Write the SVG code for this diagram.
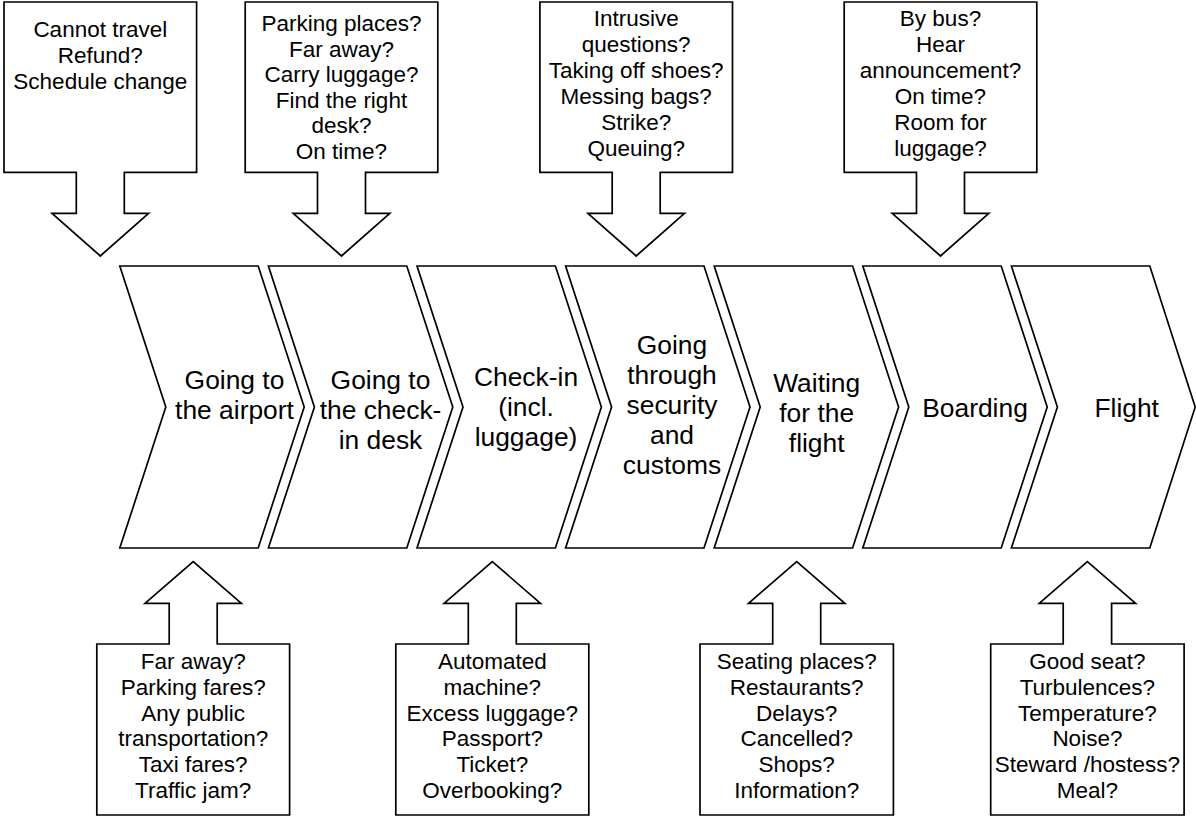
<svg xmlns="http://www.w3.org/2000/svg" width="1196" height="818" viewBox="0 0 1196 818">
<style>
.s{fill:#fff;stroke:#000;stroke-width:1.7;stroke-linejoin:miter}
.c{font-family:"Liberation Sans",Arial,sans-serif;font-size:22.5px;text-anchor:middle;fill:#000}
.h{font-family:"Liberation Sans",Arial,sans-serif;font-size:26.4px;text-anchor:middle;fill:#000}
</style>
<rect width="1196" height="818" fill="#fff"/>

<!-- chevrons -->
<g id="step1"><polygon class="s" points="119.8,266 258.2,266 304.2,407 258.2,548 119.8,548 165.8,407"/>
<text class="h"><tspan x="234.5" y="388.5">Going to</tspan><tspan x="234.5" y="418.5">the airport</tspan></text></g>
<g id="step2"><polygon class="s" points="268.4,266 406.8,266 452.8,407 406.8,548 268.4,548 314.4,407"/>
<text class="h"><tspan x="380.5" y="388.5">Going to</tspan><tspan x="380.5" y="418.5">the check-</tspan><tspan x="380.5" y="448.5">in desk</tspan></text></g>
<g id="step3"><polygon class="s" points="417,266 555.4,266 601.4,407 555.4,548 417,548 463,407"/>
<text class="h"><tspan x="526" y="386">Check-in</tspan><tspan x="526" y="416">(incl.</tspan><tspan x="526" y="446">luggage)</tspan></text></g>
<g id="step4"><polygon class="s" points="565.6,266 704,266 750,407 704,548 565.6,548 611.6,407"/>
<text class="h"><tspan x="672" y="353.5">Going</tspan><tspan x="672" y="383.5">through</tspan><tspan x="672" y="413.5">security</tspan><tspan x="672" y="443.5">and</tspan><tspan x="672" y="473.5">customs</tspan></text></g>
<g id="step5"><polygon class="s" points="714.2,266 852.6,266 898.6,407 852.6,548 714.2,548 760.2,407"/>
<text class="h"><tspan x="816.7" y="391.5">Waiting</tspan><tspan x="816.7" y="421.5">for the</tspan><tspan x="816.7" y="451.5">flight</tspan></text></g>
<g id="step6"><polygon class="s" points="862.8,266 1001.2,266 1047.2,407 1001.2,548 862.8,548 908.8,407"/>
<text class="h" x="975" y="416.5">Boarding</text></g>
<g id="step7"><polygon class="s" points="1011.4,266 1149.8,266 1195.2,407 1149.8,548 1011.4,548 1057.4,407"/>
<text class="h" x="1126.7" y="416.5">Flight</text></g>

<!-- top callouts -->
<g id="issue-top1"><path class="s" d="M4,2H196.6V172.3H124.3V213.3H148.6L100.3,256L52,213.3H76.3V172.3H4Z"/>
<text class="c"><tspan x="100.3" y="37">Cannot travel</tspan><tspan x="100.3" y="62.8">Refund?</tspan><tspan x="100.3" y="88.6">Schedule change</tspan></text></g>
<g id="issue-top2"><path class="s" d="M245.2,2H437.8V172.3H365.5V213.3H389.8L341.5,256L293.2,213.3H317.5V172.3H245.2Z"/>
<text class="c"><tspan x="341.5" y="31">Parking places?</tspan><tspan x="341.5" y="56.6">Far away?</tspan><tspan x="341.5" y="82.2">Carry luggage?</tspan><tspan x="341.5" y="107.8">Find the right</tspan><tspan x="341.5" y="133.4">desk?</tspan><tspan x="341.5" y="159">On time?</tspan></text></g>
<g id="issue-top3"><path class="s" d="M539.9,2H732.5V172.3H660.2V213.3H684.5L636.2,256L587.9,213.3H612.2V172.3H539.9Z"/>
<text class="c"><tspan x="636.2" y="26">Intrusive</tspan><tspan x="636.2" y="52">questions?</tspan><tspan x="636.2" y="78">Taking off shoes?</tspan><tspan x="636.2" y="104">Messing bags?</tspan><tspan x="636.2" y="130">Strike?</tspan><tspan x="636.2" y="156">Queuing?</tspan></text></g>
<g id="issue-top4"><path class="s" d="M844.2,2H1036.8V172.3H964.5V213.3H988.8L940.5,256L892.2,213.3H916.5V172.3H844.2Z"/>
<text class="c"><tspan x="940.5" y="26">By bus?</tspan><tspan x="940.5" y="52">Hear</tspan><tspan x="940.5" y="78">announcement?</tspan><tspan x="940.5" y="104">On time?</tspan><tspan x="940.5" y="130">Room for</tspan><tspan x="940.5" y="156">luggage?</tspan></text></g>

<!-- bottom callouts -->
<g id="issue-bottom1"><path class="s" d="M96.8,815H289.6V644H217.2V603.3H241.4L193.2,561.7L145,603.3H169.2V644H96.8Z"/>
<text class="c"><tspan x="193.2" y="669">Far away?</tspan><tspan x="193.2" y="694.8">Parking fares?</tspan><tspan x="193.2" y="720.6">Any public</tspan><tspan x="193.2" y="746.4">transportation?</tspan><tspan x="193.2" y="772.2">Taxi fares?</tspan><tspan x="193.2" y="798">Traffic jam?</tspan></text></g>
<g id="issue-bottom2"><path class="s" d="M395.8,815H588.8V644H516.3V603.3H540.5L492.3,561.7L444.1,603.3H468.3V644H395.8Z"/>
<text class="c"><tspan x="492.3" y="669">Automated</tspan><tspan x="492.3" y="694.8">machine?</tspan><tspan x="492.3" y="720.6">Excess luggage?</tspan><tspan x="492.3" y="746.4">Passport?</tspan><tspan x="492.3" y="772.2">Ticket?</tspan><tspan x="492.3" y="798">Overbooking?</tspan></text></g>
<g id="issue-bottom3"><path class="s" d="M700,815H893.4V644H820.7V603.3H844.9L796.7,561.7L748.5,603.3H772.7V644H700Z"/>
<text class="c"><tspan x="796.7" y="669">Seating places?</tspan><tspan x="796.7" y="694.8">Restaurants?</tspan><tspan x="796.7" y="720.6">Delays?</tspan><tspan x="796.7" y="746.4">Cancelled?</tspan><tspan x="796.7" y="772.2">Shops?</tspan><tspan x="796.7" y="798">Information?</tspan></text></g>
<g id="issue-bottom4"><path class="s" d="M990.7,815H1184.1V644H1111.6V603.3H1135.6L1087.4,561.7L1039.2,603.3H1063.2V644H990.7Z"/>
<text class="c"><tspan x="1087.4" y="669">Good seat?</tspan><tspan x="1087.4" y="694.8">Turbulences?</tspan><tspan x="1087.4" y="720.6">Temperature?</tspan><tspan x="1087.4" y="746.4">Noise?</tspan><tspan x="1087.4" y="772.2">Steward /hostess?</tspan><tspan x="1087.4" y="798">Meal?</tspan></text></g>

<g id="connectors"></g>
</svg>
